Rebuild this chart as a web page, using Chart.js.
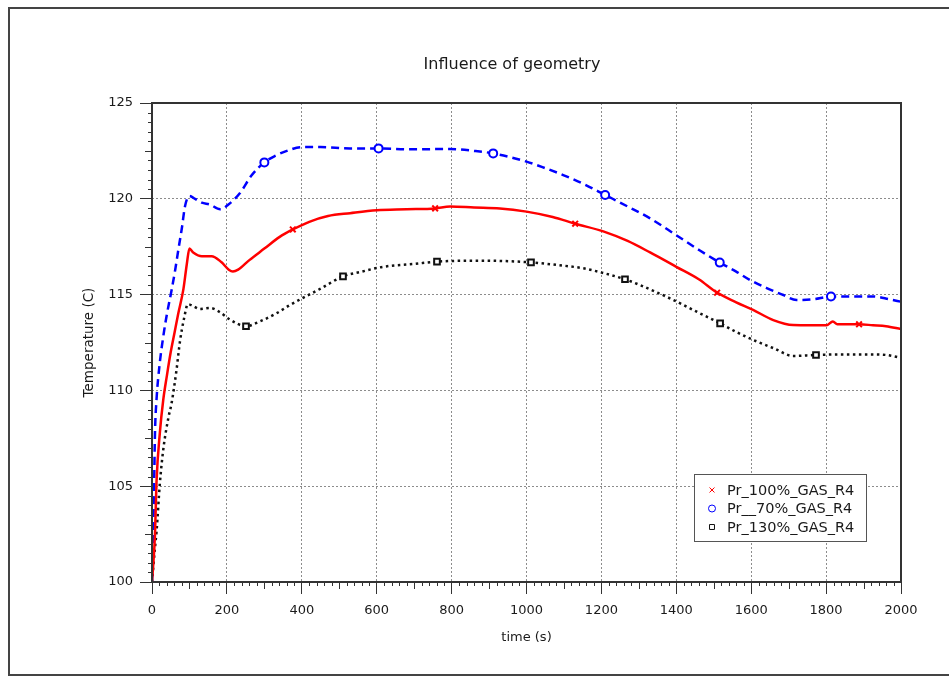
<!DOCTYPE html>
<html><head><meta charset="utf-8">
<script src="https://cdn.jsdelivr.net/npm/chart.js@4.4.0/dist/chart.umd.min.js"></script>
<style>
html,body{margin:0;padding:0;background:#fff;}
canvas{display:block;}
</style></head><body>
<canvas id="c" width="949" height="676"></canvas>
<script>
const chartTitle = 'Influence of geometry';
const xTitle = 'time (s)';
const yTitle = 'Temperature (C)';
const seriesNames = ['Pr_100%_GAS_R4', 'Pr__70%_GAS_R4', 'Pr_130%_GAS_R4'];

const redTime = [0,8,12,21,30,40,50,60,70,84,93,100,110,133,159,185,205,216,230,260,300,340,376,420,470,529,600,680,756,796,860,929,1000,1070,1130,1205,1270,1330,1400,1460,1509,1560,1605,1659,1712,1760,1801,1818,1830,1888,1925,1960,2000];
const redTemp = [100,102.5,105.2,107.8,109.5,110.8,112.0,113.0,114.0,115.3,116.6,117.4,117.2,117.0,117.0,116.7,116.3,116.2,116.3,116.8,117.4,118.0,118.4,118.8,119.1,119.25,119.4,119.45,119.5,119.6,119.55,119.5,119.33,119.05,118.7,118.3,117.8,117.2,116.45,115.8,115.1,114.6,114.2,113.67,113.41,113.4,113.4,113.6,113.45,113.45,113.4,113.35,113.2];
const redMarks = [376,756,1130,1509,1888];

const blueTime = [0,3,5,8,12,20,30,40,52,62,70,80,88,100,115,133,155,182,204,235,265,300,330,360,400,450,529,605,689,796,860,911,1000,1050,1098,1150,1210,1270,1330,1400,1463,1516,1560,1597,1640,1686,1721,1766,1813,1870,1926,1970,2000];
const blueTemp = [100,102.5,104.3,107.8,109.5,111.3,112.8,114.0,115.2,116.3,117.3,118.5,119.6,120.15,120.0,119.8,119.7,119.45,119.7,120.3,121.2,121.9,122.25,122.5,122.7,122.7,122.63,122.63,122.58,122.6,122.5,122.37,121.94,121.6,121.24,120.8,120.2,119.6,118.98,118.1,117.3,116.67,116.2,115.76,115.35,114.98,114.72,114.76,114.9,114.9,114.9,114.75,114.63];
const blueMarks = [300,605,911,1210,1516,1813];

const blackTime = [0,8,12,21,30,44,52,65,75,85,96,110,128,155,180,208,251,288,330,368,410,449,510,560,617,700,761,885,1012,1080,1152,1210,1263,1303,1350,1392,1450,1517,1560,1606,1660,1712,1773,1850,1926,1960,2000];
const blackTemp = [100,101.8,102.6,105.15,106.9,108.6,109.3,111.0,112.6,113.7,114.5,114.4,114.25,114.3,114.1,113.7,113.35,113.6,114.0,114.45,114.9,115.3,115.95,116.2,116.45,116.6,116.72,116.77,116.68,116.55,116.37,116.1,115.8,115.5,115.1,114.72,114.15,113.5,113.05,112.63,112.2,111.8,111.85,111.88,111.88,111.85,111.7];
const blackMarks = [251,510,761,1012,1263,1517,1773];

const xMin = 0, xMax = 2000, xStep = 200, xMinor = 20;
const yMin = 100, yMax = 125, yStep = 5, yMinor = 0.5;

const FONT = 'DejaVu Sans';
Chart.defaults.font.family = FONT;
Chart.defaults.font.size = 13;
Chart.defaults.color = '#1a1a1a';

function pts(t, v) { return t.map((x, i) => ({x: x, y: v[i]})); }
function radii(t, marks, r) { return t.map(x => marks.includes(x) ? r : 0); }

const decor = {
  id: 'decor',
  beforeDraw(chart) {
    const {ctx} = chart;
    ctx.save();
    ctx.fillStyle = '#fff';
    ctx.fillRect(0, 0, chart.width, chart.height);
    ctx.strokeStyle = '#444';
    ctx.lineWidth = 2;
    ctx.strokeRect(9, 8, 950, 667);
    ctx.restore();
  },
  afterDraw(chart) {
    const {ctx, chartArea: a, scales: {x, y}} = chart;
    ctx.save();
    ctx.strokeStyle = '#333';
    ctx.lineWidth = 2;
    ctx.strokeRect(a.left, a.top, a.right - a.left, a.bottom - a.top);
    ctx.lineWidth = 1;
    ctx.beginPath();
    for (let k = 0; k <= (xMax - xMin) / xMinor; k++) {
      if (k % 10 === 0) continue;
      const len = k % 5 === 0 ? 7 : 4;
      const px = Math.round(x.getPixelForValue(xMin + k * xMinor)) + 0.5;
      ctx.moveTo(px, a.bottom); ctx.lineTo(px, a.bottom + len);
    }
    for (let k = 0; k <= (yMax - yMin) / yMinor; k++) {
      if (k % 10 === 0) continue;
      const len = k % 5 === 0 ? 7 : 4;
      const py = Math.round(y.getPixelForValue(yMin + k * yMinor)) + 0.5;
      ctx.moveTo(a.left, py); ctx.lineTo(a.left - len, py);
    }
    ctx.stroke();
    // title
    ctx.fillStyle = '#1a1a1a';
    ctx.font = '16px "' + FONT + '"';
    ctx.textAlign = 'center';
    ctx.textBaseline = 'middle';
    ctx.fillText(chartTitle, 512, 65);
    // legend
    const lx = 694, ly = 474, lw = 172, lh = 67;
    ctx.fillStyle = '#fff';
    ctx.fillRect(lx, ly, lw, lh);
    ctx.strokeStyle = '#555';
    ctx.lineWidth = 1;
    ctx.strokeRect(lx + 0.5, ly + 0.5, lw, lh);
    ctx.font = '14.5px "' + FONT + '"';
    ctx.textAlign = 'left';
    chart.data.datasets.forEach((ds, i) => {
      const cy = ly + 16 + i * 18.5;
      ctx.strokeStyle = ds.pointBorderColor;
      ctx.fillStyle = ds.pointBackgroundColor;
      Chart.helpers.drawPoint(ctx, {pointStyle: ds.pointStyle, radius: 3.5, borderWidth: 2.5, rotation: 0}, 712, cy);
      ctx.fillStyle = '#1a1a1a';
      ctx.fillText(ds.label, 727, cy + 1);
    });
    ctx.restore();
  }
};

new Chart(document.getElementById('c'), {
  type: 'line',
  data: {
    datasets: [
      {label: seriesNames[0], data: pts(redTime, redTemp), borderColor: '#ff0000', borderWidth: 2.5,
       pointStyle: 'crossRot', pointRadius: radii(redTime, redMarks, 4), pointBorderColor: '#ff0000', pointBackgroundColor: '#ff0000', pointBorderWidth: 2,
       cubicInterpolationMode: 'monotone', fill: false},
      {label: seriesNames[1], data: pts(blueTime, blueTemp), borderColor: '#0000ff', borderWidth: 2.5, borderDash: [8, 5],
       pointStyle: 'circle', pointRadius: radii(blueTime, blueMarks, 4), pointBorderColor: '#0000ff', pointBackgroundColor: '#ffffff', pointBorderWidth: 2,
       cubicInterpolationMode: 'monotone', fill: false},
      {label: seriesNames[2], data: pts(blackTime, blackTemp), borderColor: '#111111', borderWidth: 2.5, borderDash: [2.5, 3.5],
       pointStyle: 'rect', pointRadius: radii(blackTime, blackMarks, 4), pointBorderColor: '#111111', pointBackgroundColor: '#ffffff', pointBorderWidth: 2,
       cubicInterpolationMode: 'monotone', fill: false}
    ]
  },
  options: {
    responsive: false,
    animation: false,
    events: [],
    layout: {padding: {left: 77, top: 103, right: 48, bottom: 27}},
    plugins: {legend: {display: false}, title: {display: false}, tooltip: {enabled: false}},
    scales: {
      x: {
        type: 'linear', min: xMin, max: xMax,
        ticks: {stepSize: xStep, padding: 9, maxRotation: 0, font: {size: 13}, callback: v => String(v)},
        grid: {color: c => (c.tick && (c.tick.value === xMin || c.tick.value === xMax)) ? 'rgba(0,0,0,0)' : '#8c8c8c',
               lineWidth: 1, tickLength: 12, tickColor: '#333', tickWidth: 1},
        border: {display: false, dash: [2, 2]},
        title: {display: true, text: xTitle, font: {size: 13}, color: '#1a1a1a'},
        afterFit: s => { s.height = 67; }
      },
      y: {
        type: 'linear', min: yMin, max: yMax,
        ticks: {stepSize: yStep, padding: 7, font: {size: 13}, callback: v => String(v)},
        grid: {color: c => (c.tick && (c.tick.value === yMin || c.tick.value === yMax)) ? 'rgba(0,0,0,0)' : '#8c8c8c',
               lineWidth: 1, tickLength: 12, tickColor: '#333', tickWidth: 1},
        border: {display: false, dash: [2, 2]},
        title: {display: true, text: yTitle, font: {size: 13.5}, color: '#1a1a1a'},
        afterFit: s => { s.width = 75; }
      }
    }
  },
  plugins: [decor]
});
</script>
</body></html>
